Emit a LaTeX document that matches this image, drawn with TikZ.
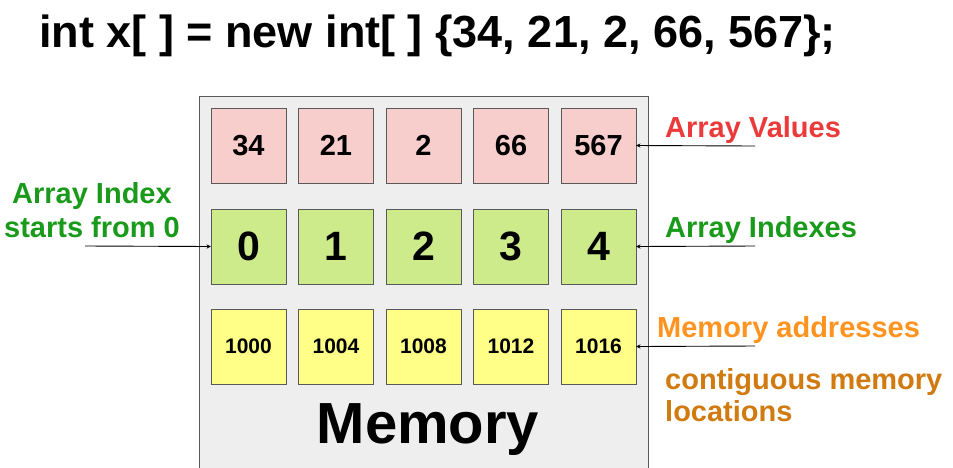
\documentclass[tikz,border=0pt]{standalone}
\usepackage{fontspec}
\setmainfont{Liberation Sans}
\usetikzlibrary{positioning}
\definecolor{valred}{HTML}{F8CECC}
\definecolor{idxgreen}{HTML}{CDEB8B}
\definecolor{addryel}{HTML}{FFFF88}
\definecolor{memgray}{HTML}{EEEEEE}
\definecolor{lblred}{HTML}{EA3A3A}
\definecolor{lblgreen}{HTML}{1A9A1A}
\definecolor{lblorange}{HTML}{FF9320}
\definecolor{lbldark}{HTML}{D07A10}
\tikzset{
  cell/.style={draw=gray!70!black, minimum width=75pt, minimum height=75pt, inner sep=0pt, font=\bfseries},
  lbl/.style={font=\fontsize{29}{33}\selectfont\bfseries, anchor=west, inner sep=0pt},
  ptr/.style={-stealth, line width=0.9pt}
}
\begin{document}
\begin{tikzpicture}[x=1pt,y=-1pt]
  \useasboundingbox (0,0) rectangle (953,467);
  \node[font=\fontsize{45}{52}\selectfont\bfseries, anchor=west, inner sep=0pt] (title) at (39,36)
    {int x[ ] = new int[ ] \{34, 21, 2, 66, 567\};};
  \draw[fill=memgray, draw=gray!70!black] (199,470) -- (199,96) -- (648,96) -- (648,470);
  \node[font=\fontsize{58}{64}\selectfont\bfseries] (mem) at (428,430) {Memory};
  % cells
  \foreach \v [count=\i from 0] in {34,21,2,66,567} {
    \node[cell, fill=valred, font=\fontsize{29}{33}\selectfont\bfseries] (v\i) at (248.5+87.5*\i,145.5) {\v};
  }
  \foreach \i in {0,...,4} {
    \node[cell, fill=idxgreen, font=\fontsize{41}{46}\selectfont\bfseries] (n\i) at (248.5+87.5*\i,246.5) {\i};
  }
  \foreach \a [count=\i from 0] in {1000,1004,1008,1012,1016} {
    \node[cell, fill=addryel, font=\fontsize{21}{24}\selectfont\bfseries] (a\i) at (248.5+87.5*\i,346.5) {\a};
  }
  % labels
  \node[lbl, text=lblred] (lv) at (665,130) {Array Values};
  \node[lbl, text=lblgreen] (li) at (665,230) {Array Indexes};
  \node[lbl, text=lblorange] (la) at (657,330) {Memory addresses};
  \node[lbl, text=lbldark, align=left, anchor=north west, font=\fontsize{29}{32}\selectfont\bfseries] (lc) at (665,368) {contiguous memory\\locations};
  \node[font=\fontsize{29}{34}\selectfont\bfseries, text=lblgreen, align=center, inner sep=0pt] (ls) at (92,210) {Array Index\\starts from 0};
  \coordinate (pv) at (755,146);
  \coordinate (pi) at (755,246);
  \coordinate (pa) at (755,346);
  \coordinate (ps) at (85,246);
  \draw[ptr] (pv) -- (v4.east);
  \draw[ptr] (pi) -- (n4.east);
  \draw[ptr] (pa) -- (a4.east);
  \draw[ptr] (ps) -- (n0.west);
\end{tikzpicture}
\end{document}
